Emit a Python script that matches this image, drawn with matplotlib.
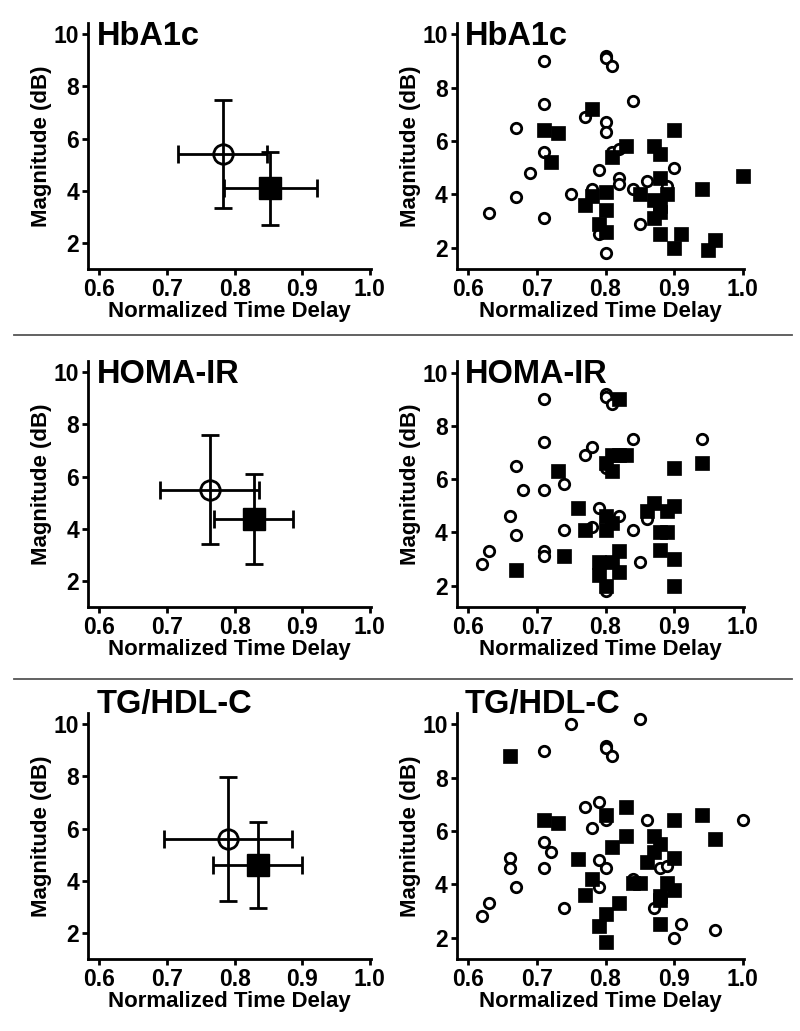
import matplotlib
matplotlib.use('Agg')
import matplotlib.pyplot as plt
from matplotlib.lines import Line2D
from matplotlib.ticker import FormatStrFormatter

plt.rcParams['font.family'] = ['Liberation Sans', 'DejaVu Sans']
plt.rcParams['font.weight'] = 'bold'

panel_names = ['HbA1c', 'HOMA-IR', 'TG/HDL-C']

# left column: group mean +/- SD (open circle vs filled square)
open_mean_x = [0.782, 0.763, 0.790]
open_mean_y = [5.41, 5.49, 5.60]
open_xerr = [0.066, 0.073, 0.095]
open_yerr = [2.07, 2.09, 2.39]
filled_mean_x = [0.853, 0.828, 0.834]
filled_mean_y = [4.10, 4.37, 4.61]
filled_xerr = [0.069, 0.059, 0.066]
filled_yerr = [1.40, 1.73, 1.65]

# right column: individual subjects
hba1c_open_x = [0.63, 0.67, 0.67, 0.69, 0.71, 0.71, 0.71, 0.71, 0.75, 0.77, 0.78, 0.79, 0.79,
                0.80, 0.80, 0.81, 0.80, 0.80, 0.80, 0.81, 0.82, 0.82, 0.82, 0.84, 0.84, 0.85,
                0.86, 0.89, 0.90]
hba1c_open_y = [3.3, 3.9, 6.5, 4.8, 9.0, 7.4, 5.6, 3.1, 4.0, 6.9, 4.2, 4.9, 2.5,
                9.2, 9.1, 8.8, 6.7, 6.35, 1.8, 5.6, 5.7, 4.6, 4.4, 7.5, 4.2, 2.9,
                4.5, 4.3, 5.0]
hba1c_filled_x = [0.71, 0.73, 0.72, 0.77, 0.78, 0.78, 0.79, 0.80, 0.80, 0.80, 0.81, 0.83, 0.85,
                  0.87, 0.88, 0.88, 0.87, 0.87, 0.88, 0.89, 0.88, 0.88, 0.90, 0.90, 0.91, 0.94,
                  0.95, 0.96, 1.00]
hba1c_filled_y = [6.4, 6.3, 5.2, 3.6, 7.2, 3.95, 2.9, 4.1, 3.4, 2.6, 5.4, 5.8, 4.0,
                  5.8, 5.5, 4.6, 3.8, 3.1, 3.35, 4.0, 3.55, 2.5, 6.4, 2.0, 2.5, 4.2,
                  1.9, 2.3, 4.7]

homa_open_x = [0.62, 0.63, 0.66, 0.67, 0.67, 0.68, 0.71, 0.71, 0.71, 0.71, 0.71, 0.74, 0.74,
               0.77, 0.78, 0.78, 0.79, 0.80, 0.80, 0.81, 0.80, 0.80, 0.82, 0.84, 0.84, 0.85,
               0.86, 0.94]
homa_open_y = [2.8, 3.3, 4.6, 3.9, 6.5, 5.6, 9.0, 7.4, 5.6, 3.3, 3.1, 5.8, 4.1,
               6.9, 7.2, 4.2, 4.9, 9.2, 9.1, 8.8, 6.4, 1.8, 4.6, 7.5, 4.1, 2.9,
               4.5, 7.5]
homa_filled_x = [0.67, 0.73, 0.74, 0.76, 0.77, 0.80, 0.81, 0.82, 0.83, 0.81, 0.82, 0.80, 0.80,
                 0.81, 0.79, 0.79, 0.81, 0.82, 0.82, 0.80, 0.86, 0.87, 0.89, 0.90, 0.88, 0.89,
                 0.88, 0.90, 0.90, 0.90, 0.94]
homa_filled_y = [2.6, 6.3, 3.1, 4.9, 4.1, 6.6, 6.9, 6.9, 6.9, 6.3, 9.0, 4.6, 4.1,
                 4.35, 2.9, 2.4, 2.9, 3.3, 2.5, 2.0, 4.8, 5.1, 4.8, 5.0, 4.0, 4.0,
                 3.35, 3.0, 2.0, 6.4, 6.6]

tg_open_x = [0.62, 0.63, 0.66, 0.66, 0.67, 0.71, 0.71, 0.72, 0.71, 0.74, 0.75, 0.85, 0.77,
             0.79, 0.78, 0.79, 0.80, 0.79, 0.80, 0.80, 0.81, 0.80, 0.86, 0.88, 0.89, 0.87,
             0.91, 0.90, 0.96, 1.00, 0.84]
tg_open_y = [2.8, 3.3, 5.0, 4.6, 3.9, 9.0, 5.6, 5.2, 4.6, 3.1, 10.0, 10.2, 6.9,
             7.1, 6.1, 4.9, 4.6, 3.9, 9.2, 9.1, 8.8, 6.4, 6.4, 4.6, 4.7, 3.1,
             2.5, 2.0, 2.3, 6.4, 4.2]
tg_filled_x = [0.66, 0.71, 0.73, 0.76, 0.78, 0.77, 0.80, 0.83, 0.83, 0.81, 0.82, 0.80, 0.79,
               0.80, 0.84, 0.85, 0.87, 0.88, 0.87, 0.86, 0.90, 0.90, 0.94, 0.96, 0.89, 0.90,
               0.88, 0.88, 0.88]
tg_filled_y = [8.8, 6.4, 6.3, 4.95, 4.2, 3.6, 6.6, 6.9, 5.8, 5.4, 3.3, 2.9, 2.45,
               1.85, 4.05, 4.05, 5.8, 5.5, 5.2, 4.85, 5.0, 6.4, 6.6, 5.7, 4.05, 3.8,
               3.55, 3.4, 2.5]

scatter_open = [(hba1c_open_x, hba1c_open_y), (homa_open_x, homa_open_y), (tg_open_x, tg_open_y)]
scatter_filled = [(hba1c_filled_x, hba1c_filled_y), (homa_filled_x, homa_filled_y),
                  (tg_filled_x, tg_filled_y)]


def style_axes(ax, ylo):
    ax.set_xlim(0.583, 1.002)
    ax.set_ylim(ylo, 10.43)
    ax.spines[['top', 'right']].set_visible(False)
    for s in ['left', 'bottom']:
        ax.spines[s].set_linewidth(2)
    ax.set_xticks([0.6, 0.7, 0.8, 0.9, 1.0])
    ax.set_yticks([2, 4, 6, 8, 10])
    ax.xaxis.set_major_formatter(FormatStrFormatter('%.1f'))
    ax.tick_params(width=2, length=4, labelsize=16.5, pad=2.5)
    ax.set_xlabel('Normalized Time Delay', fontsize=16, fontweight='bold', labelpad=0)
    ax.set_ylabel('Magnitude (dB)', fontsize=16, fontweight='bold', labelpad=1)


fig = plt.figure(figsize=(8, 10.31), dpi=100)
row_bottoms = [0.7391, 0.4112, 0.0698]
title_y = [0.91, 0.91, 1.0]

for i, name in enumerate(panel_names):
    # left: means with SD bars
    axl = fig.add_axes([0.110, row_bottoms[i], 0.354, 0.2386])
    axl.errorbar(open_mean_x[i], open_mean_y[i], xerr=open_xerr[i], yerr=open_yerr[i],
                 fmt='o', ms=14, mfc='none', mec='black', mew=2, color='black',
                 elinewidth=2, capsize=6.5, capthick=2)
    axl.errorbar(filled_mean_x[i], filled_mean_y[i], xerr=filled_xerr[i], yerr=filled_yerr[i],
                 fmt='s', ms=16.5, mfc='black', mec='black', color='black',
                 elinewidth=2, capsize=6.5, capthick=2)
    style_axes(axl, 1.0)
    axl.text(0.03, title_y[i], name, transform=axl.transAxes, fontsize=23.5,
             fontweight='bold', va='baseline')

    # right: individual values
    axr = fig.add_axes([0.571, row_bottoms[i], 0.359, 0.2386])
    ox, oy = scatter_open[i]
    fx, fy = scatter_filled[i]
    axr.plot(ox, oy, 'o', ms=7.5, mfc='white', mec='black', mew=2, zorder=3, clip_on=False)
    axr.plot(fx, fy, 's', ms=9.5, mfc='black', mec='black', mew=0.5, zorder=4, clip_on=False)
    style_axes(axr, 1.2)
    axr.text(0.028, title_y[i], name, transform=axr.transAxes, fontsize=23.5,
             fontweight='bold', va='baseline')

# separators between rows
for py in [335, 679]:
    fig.add_artist(Line2D([14 / 800, 792 / 800], [1 - py / 1031] * 2, color='#555555', lw=1.3))

fig.savefig('out.png', dpi=100)
